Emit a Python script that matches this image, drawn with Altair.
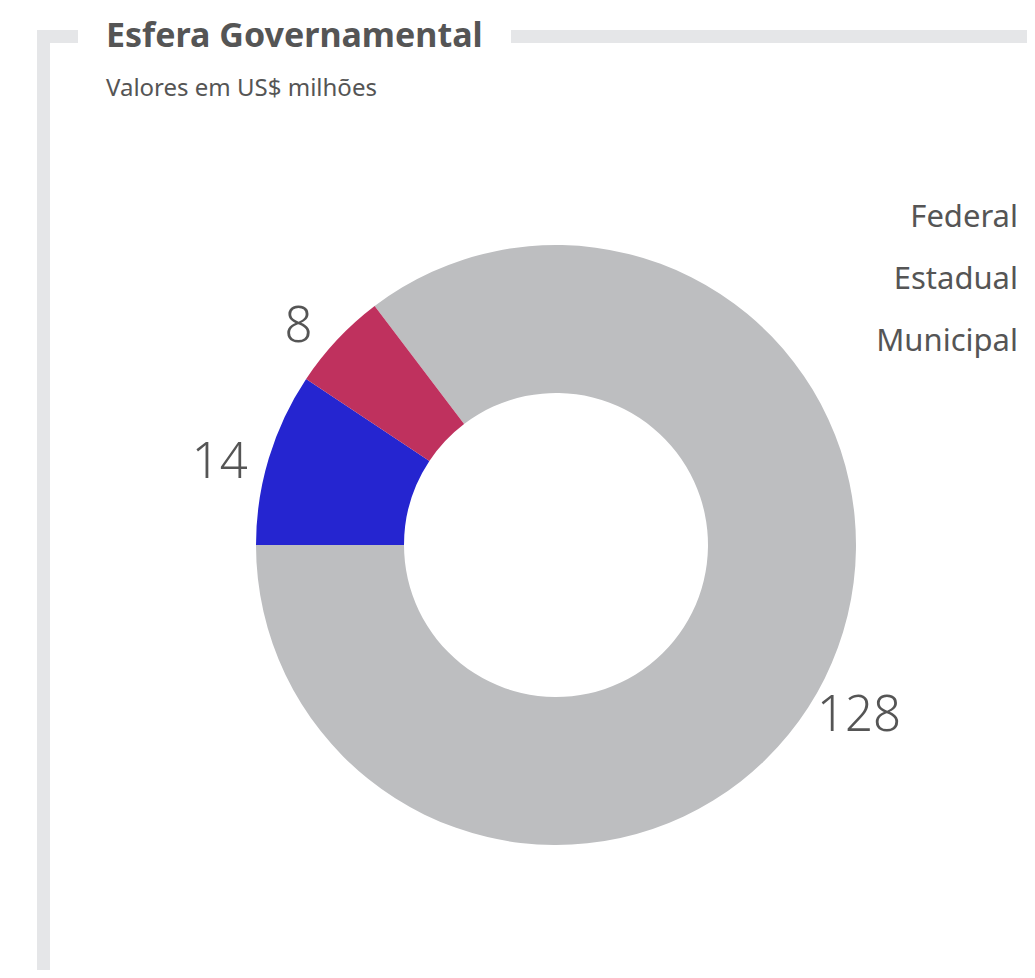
import math
import altair as alt
import pandas as pd

# data
categorias = ["Federal", "Estadual", "Municipal"]
valores = [128, 14, 8]
cores = ["#bdbec0", "#2525d0", "#bf315e"]
ordem_pilha = [2, 0, 1]  # Estadual, Municipal, Federal clockwise from 9 o'clock

titulo = "Esfera Governamental"
subtitulo = "Valores em US$ milhões"

df = pd.DataFrame({"esfera": categorias, "valor": valores, "ordem": ordem_pilha})
one = pd.DataFrame({"a": [0]})

TXT = "#555555"
FRAME = "#e5e6e8"
FONT = "Noto Sans"

CX, CY = 548, 537

theta = alt.Theta("valor:Q", stack=True,
                  scale=alt.Scale(range=[1.5 * math.pi, 3.5 * math.pi]))
color = alt.Color("esfera:N",
                  scale=alt.Scale(domain=categorias, range=cores),
                  legend=alt.Legend(orient="none", legendX=979, legendY=194,
                                    title=None, symbolOpacity=0, symbolSize=0,
                                    symbolStrokeWidth=0,
                                    labelFontSize=31, labelColor=TXT, labelFont=FONT,
                                    labelAlign="right", labelOffset=0,
                                    rowPadding=30, labelLimit=400))

arc = alt.Chart(df).mark_arc(outerRadius=300, innerRadius=152).encode(
    theta=theta, color=color, order=alt.Order("ordem:Q"),
    x=alt.value(CX), y=alt.value(CY),
)

labels = alt.Chart(df).mark_text(radius=345, fontSize=49, font=FONT, fontWeight=300,
                                 color=TXT, align="center", baseline="middle",
                                 dx=-6, dy=18).encode(
    theta=theta, text=alt.Text("valor:Q"), order=alt.Order("ordem:Q"),
    x=alt.value(CX), y=alt.value(CY),
)

frame_left = alt.Chart(one).mark_rule(color=FRAME, strokeWidth=13, strokeCap="butt").encode(
    x=alt.value(35.5), y=alt.value(22), y2=alt.value(969))
frame_top1 = alt.Chart(one).mark_rule(color=FRAME, strokeWidth=13, strokeCap="butt").encode(
    x=alt.value(29), x2=alt.value(70), y=alt.value(28.5))
frame_top2 = alt.Chart(one).mark_rule(color=FRAME, strokeWidth=13, strokeCap="butt").encode(
    x=alt.value(503), x2=alt.value(1027), y=alt.value(28.5))
frame_bottom = alt.Chart(one).mark_rule(color=FRAME, strokeWidth=2, strokeCap="butt").encode(
    x=alt.value(42), x2=alt.value(1027), y=alt.value(968))

t1 = alt.Chart(pd.DataFrame({"t": [titulo]})).mark_text(
    align="left", baseline="alphabetic", fontSize=34, fontWeight="bold", font=FONT, color=TXT
).encode(x=alt.value(98), y=alt.value(39), text="t:N")
t2 = alt.Chart(pd.DataFrame({"t": [subtitulo]})).mark_text(
    align="left", baseline="alphabetic", fontSize=24, font=FONT, color=TXT
).encode(x=alt.value(98), y=alt.value(88), text="t:N")

chart = alt.layer(frame_left, frame_top1, frame_top2, frame_bottom, t1, t2, arc, labels).properties(
    width=1019, height=962, padding=0,
    autosize=alt.AutoSizeParams(type="none"),
).configure(
    background="white",
    view=alt.ViewConfig(stroke="transparent", strokeWidth=0),
)

chart.save("out.html", embed_options={"renderer": "svg", "actions": False})
